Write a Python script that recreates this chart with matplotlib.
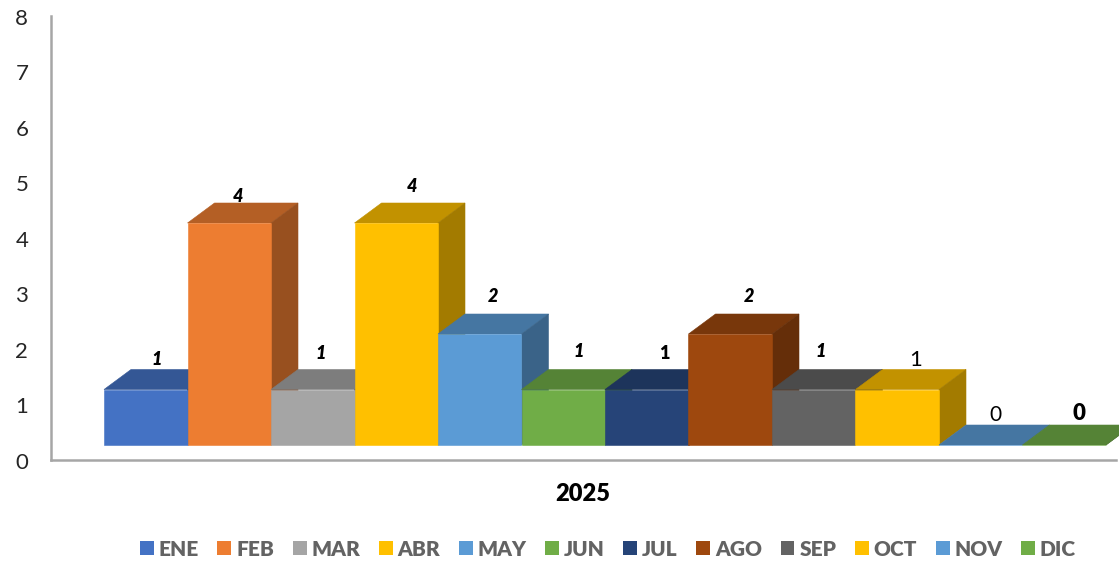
import matplotlib.pyplot as plt
import numpy as np
from matplotlib.colors import to_rgb
from matplotlib.patches import Polygon, Patch
from matplotlib.transforms import ScaledTranslation

plt.rcParams['font.family'] = ['Lato', 'DejaVu Sans']

months = ['ENE', 'FEB', 'MAR', 'ABR', 'MAY', 'JUN', 'JUL', 'AGO', 'SEP', 'OCT', 'NOV', 'DIC']
values = [1, 4, 1, 4, 2, 1, 1, 2, 1, 1, 0, 0]
colors = ['#4472C4', '#ED7D31', '#A5A5A5', '#FFC000', '#5B9BD5', '#70AD47',
          '#264478', '#9E480E', '#636363', '#FFC000', '#5B9BD5', '#70AD47']
year = '2025'

# each value label sits in its own spot, offset from the front top of the bar (pixels)
label_dx = [11, 8.5, 8, 15.5, 13, 15.5, 18, 18.5, 7, 18.5, 15, 14.5]
label_dy = [30, 26, 36, 37, 37, 38, 36, 37, 38, 30, 30, 32]
label_weight = ['heavy'] * 9 + ['normal', 'normal', 'heavy']
label_style = ['italic'] * 6 + ['normal', 'italic', 'italic', 'normal', 'normal', 'normal']
label_size = [13] * 9 + [16, 15, 16]

fig = plt.figure(figsize=(11.19, 5.61), dpi=100)
ax = fig.add_axes([50.5 / 1119, 1 - 460 / 561, (1116 - 50.5) / 1119, (460 - 16) / 561])

ax.set_ylim(0, 8)
ax.set_xlim(-0.5 - 53.5 / 83.5, 11.5 + 10 / 83.5)

base = 15 / 55.5   # floor of the bars above the axis line
depth_x = 27 / 83.5
depth_y = 20 / 55.5

for i, v in enumerate(values):
    c = np.array(to_rgb(colors[i]))
    left, right = i - 0.5, i + 0.5
    top = base + v
    ax.bar(i, v, width=1, bottom=base, color=colors[i], edgecolor=colors[i], linewidth=0.4,
           zorder=2 + i + 0.5, clip_on=False)
    # top and right faces for the 3d look
    ax.add_patch(Polygon([(left, top), (right, top), (right + depth_x, top + depth_y),
                          (left + depth_x, top + depth_y)], closed=True, facecolor=c * 0.76,
                         edgecolor=c * 0.76, linewidth=0.4, zorder=2 + i, clip_on=False))
    ax.add_patch(Polygon([(right, base), (right, top), (right + depth_x, top + depth_y),
                          (right + depth_x, base + depth_y)], closed=True, facecolor=c * 0.64,
                         edgecolor=c * 0.64, linewidth=0.4, zorder=2 + i, clip_on=False))
    ax.annotate(str(v), (i, top), xytext=(label_dx[i] * 0.72, label_dy[i] * 0.72),
                textcoords='offset points', ha='center', va='center', color='black',
                fontsize=label_size[i], fontweight=label_weight[i], fontstyle=label_style[i],
                zorder=30)

for side in ['top', 'right']:
    ax.spines[side].set_visible(False)
for side in ['left', 'bottom']:
    ax.spines[side].set_color('#a6a6a6')
    ax.spines[side].set_linewidth(1.8)

ax.set_xticks([])
ax.set_yticks(range(0, 9))
ax.tick_params(axis='y', length=0, pad=16, labelsize=16, labelcolor='#262626')
for lab in ax.get_yticklabels():
    lab.set_transform(lab.get_transform() + ScaledTranslation(0, -0.7 / 72, fig.dpi_scale_trans))
ax.set_xlabel(year, fontsize=17, fontweight='heavy', color='black', labelpad=16.5)

handles = [Patch(facecolor=colors[i], label=months[i]) for i in range(len(months))]
leg = fig.legend(handles=handles, ncol=12, loc='center', bbox_to_anchor=(608 / 1119, 1 - 549 / 561),
                 frameon=False, fontsize=15, handlelength=0.67, handleheight=0.67,
                 handletextpad=0.24, columnspacing=0.88, borderpad=0)
for t in leg.get_texts():
    t.set_color('#636363')
    t.set_fontweight('heavy')

fig.savefig('out.png', dpi=100)
